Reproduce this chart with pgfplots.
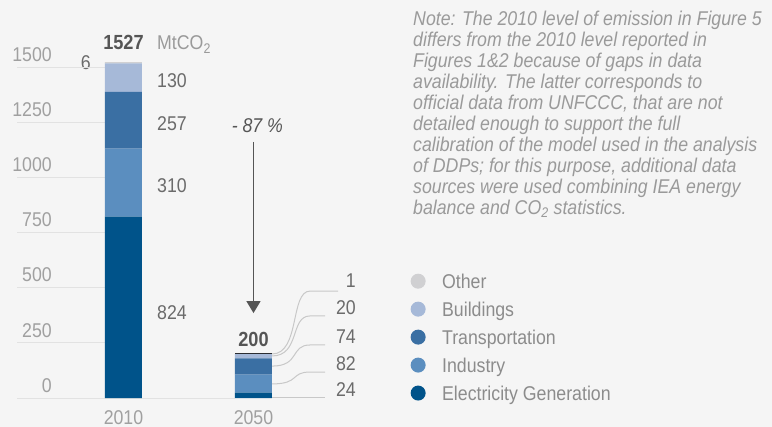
\documentclass[border=0pt]{standalone}
\usepackage{fontspec}
\setmainfont{Liberation Sans}[FakeStretch=0.89]
\usepackage{pgfplots}
\pgfplotsset{compat=1.18}
\usetikzlibrary{arrows.meta}

\definecolor{bgcol}{HTML}{F5F5F5}
\definecolor{celec}{HTML}{00538A}
\definecolor{cind}{HTML}{5B8EBF}
\definecolor{ctrans}{HTML}{3A6FA3}
\definecolor{cbuild}{HTML}{A6B9D8}
\definecolor{cother}{HTML}{D0D0D2}
\definecolor{gridc}{HTML}{E2E2E2}
\definecolor{leadc}{HTML}{C8C8C8}
\definecolor{ticktxt}{HTML}{A0A0A0}
\definecolor{valtxt}{HTML}{6B6B6B}
\definecolor{legtxt}{HTML}{8C8C8C}
\definecolor{notetxt}{HTML}{9A9A9A}
\definecolor{darktxt}{HTML}{555555}

\pgfplotsset{
  dot legend/.style={legend image code/.code={%
    \path[fill=none, draw=none] (0bp,-5bp) rectangle (15bp,15bp);
    \fill (7.5bp,1bp) circle (7.5bp);}},
}

\begin{document}
\begin{tikzpicture}
\useasboundingbox (0,0) rectangle (772bp,427bp);
\fill[bgcol] (0,0) rectangle (772bp,427bp);
\begin{axis}[
  at={(17bp,29bp)}, anchor=south west,
  scale only axis, width=301.5bp, height=352bp,
  xmin=-0.819, xmax=1.5, ymin=0, ymax=1600,
  clip=false,
  axis line style={draw=none}, major tick length=0pt,
  ybar stacked, bar width=37bp,
  every axis plot post/.append style={dot legend},
  xtick={0,1}, xticklabels={2010,2050},
  ytick={0,250,500,750,1000,1250,1500},
  yticklabels={0,250,500,750,1000,1250,1500},
  /pgf/number format/assume math mode=true,
  ticklabel style={font=\fontsize{20}{22}\selectfont, text=ticktxt, inner sep=0pt},
  yticklabel style={anchor=base east, xshift=35bp, yshift=6bp},
  xticklabel style={anchor=base, yshift=-26bp},
  reverse legend,
  legend cell align=left,
  legend style={at={(1.305,0.3722)}, anchor=north west, draw=none, fill=none,
    inner sep=0pt, nodes={inner sep=0pt}, column sep=16.5bp, row sep=5bp,
    font=\fontsize{20}{22}\selectfont, text=legtxt},
]
\addplot[fill=celec, draw=none] coordinates {(0,824) (1,24)};
\addplot[fill=cind, draw=none] coordinates {(0,310) (1,82)};
\addplot[fill=ctrans, draw=none] coordinates {(0,257) (1,74)};
\addplot[fill=cbuild, draw=none] coordinates {(0,130) (1,20)};
\addplot[fill=cother, draw=none] coordinates {(0,6) (1,1)};
\legend{Electricity Generation, Industry, Transportation, Buildings, Other}

% light gridlines to the left of the first bar, and the baseline
\draw[gridc, line width=1bp] (axis cs:-0.819,250) -- (axis cs:-0.142,250);
\draw[gridc, line width=1bp] (axis cs:-0.819,500) -- (axis cs:-0.142,500);
\draw[gridc, line width=1bp] (axis cs:-0.819,750) -- (axis cs:-0.142,750);
\draw[gridc, line width=1bp] (axis cs:-0.819,1000) -- (axis cs:-0.142,1000);
\draw[gridc, line width=1bp] (axis cs:-0.819,1250) -- (axis cs:-0.142,1250);
\draw[gridc, line width=1bp] (axis cs:-0.819,1500) -- (axis cs:-0.142,1500);
\draw[gridc, line width=1bp] (axis cs:-0.819,0) -- (axis cs:0.858,0);

% dark cap on the 2050 bar
\draw[black, line width=1.2bp] (axis cs:0.858,201) -- (axis cs:1.142,201);

% 2010 segment values
\node[anchor=west, font=\fontsize{20}{22}\selectfont, text=valtxt, inner sep=0pt] at (axis cs:0.258,1441) {130};
\node[anchor=west, font=\fontsize{20}{22}\selectfont, text=valtxt, inner sep=0pt] at (axis cs:0.258,1245) {257};
\node[anchor=west, font=\fontsize{20}{22}\selectfont, text=valtxt, inner sep=0pt] at (axis cs:0.258,964) {310};
\node[anchor=west, font=\fontsize{20}{22}\selectfont, text=valtxt, inner sep=0pt] at (axis cs:0.258,386) {824};
\node[anchor=east, font=\fontsize{20}{22}\selectfont, text=valtxt, inner sep=0pt] at (axis cs:-0.25,1525) {6};
\node[anchor=base, inner sep=0pt, font=\fontsize{20.5}{22}\selectfont\bfseries, text=darktxt] at (axis cs:0,1582) {1527};
\node[anchor=base west, inner sep=0pt, font=\fontsize{20}{22}\selectfont, text=notetxt] at (axis cs:0.258,1582) {MtCO\textsubscript{2}};

% reduction arrow
\draw[darktxt, line width=1.2bp, -{Triangle[width=14bp,length=12bp]}] (axis cs:1,1164) -- (axis cs:1,386);
\node[anchor=base, inner sep=0pt, font=\fontsize{20}{22}\selectfont\itshape, text=darktxt] at (axis cs:1.03,1205) {- 87 \%};
\node[anchor=base, inner sep=0pt, font=\fontsize{20.5}{22}\selectfont\bfseries, text=darktxt] at (axis cs:1,236) {200};

% 2050 leader lines
\draw[leadc, line width=1bp] (axis cs:1.142,200) .. controls (axis cs:1.36,200) and (axis cs:1.28,486) .. (axis cs:1.435,486) -- (axis cs:1.65,486);
\draw[leadc, line width=1bp] (axis cs:1.142,191) .. controls (axis cs:1.36,191) and (axis cs:1.28,373) .. (axis cs:1.435,373) -- (axis cs:1.55,373);
\draw[leadc, line width=1bp] (axis cs:1.142,145) .. controls (axis cs:1.36,145) and (axis cs:1.28,241) .. (axis cs:1.435,241) -- (axis cs:1.55,241);
\draw[leadc, line width=1bp] (axis cs:1.142,64) .. controls (axis cs:1.36,64) and (axis cs:1.28,118) .. (axis cs:1.435,118) -- (axis cs:1.55,118);
\draw[leadc, line width=1bp] (axis cs:1.142,4.5) -- (axis cs:1.55,4.5);
\node[anchor=base east, font=\fontsize{20}{22}\selectfont, text=valtxt, inner sep=0pt] at (axis cs:1.788,500) {1};
\node[anchor=base east, font=\fontsize{20}{22}\selectfont, text=valtxt, inner sep=0pt] at (axis cs:1.788,378) {20};
\node[anchor=base east, font=\fontsize{20}{22}\selectfont, text=valtxt, inner sep=0pt] at (axis cs:1.788,246) {74};
\node[anchor=base east, font=\fontsize{20}{22}\selectfont, text=valtxt, inner sep=0pt] at (axis cs:1.788,123) {82};
\node[anchor=base east, font=\fontsize{20}{22}\selectfont, text=valtxt, inner sep=0pt] at (axis cs:1.788,9) {24};
\end{axis}

\node[anchor=north west, inner sep=0pt, align=left, text=notetxt,
  font=\fontsize{20}{21.1}\selectfont\itshape] at (413bp,416.5bp)
{Note: The 2010 level of emission in Figure 5\\
differs from the 2010 level reported in\\
Figures 1\&2 because of gaps in data\\
availability. The latter corresponds to\\
official data from UNFCCC, that are not\\
detailed enough to support the full\\
calibration of the model used in the analysis\\
of DDPs; for this purpose, additional data\\
sources were used combining IEA energy\\
balance and CO\textsubscript{2} statistics.};
\end{tikzpicture}
\end{document}
